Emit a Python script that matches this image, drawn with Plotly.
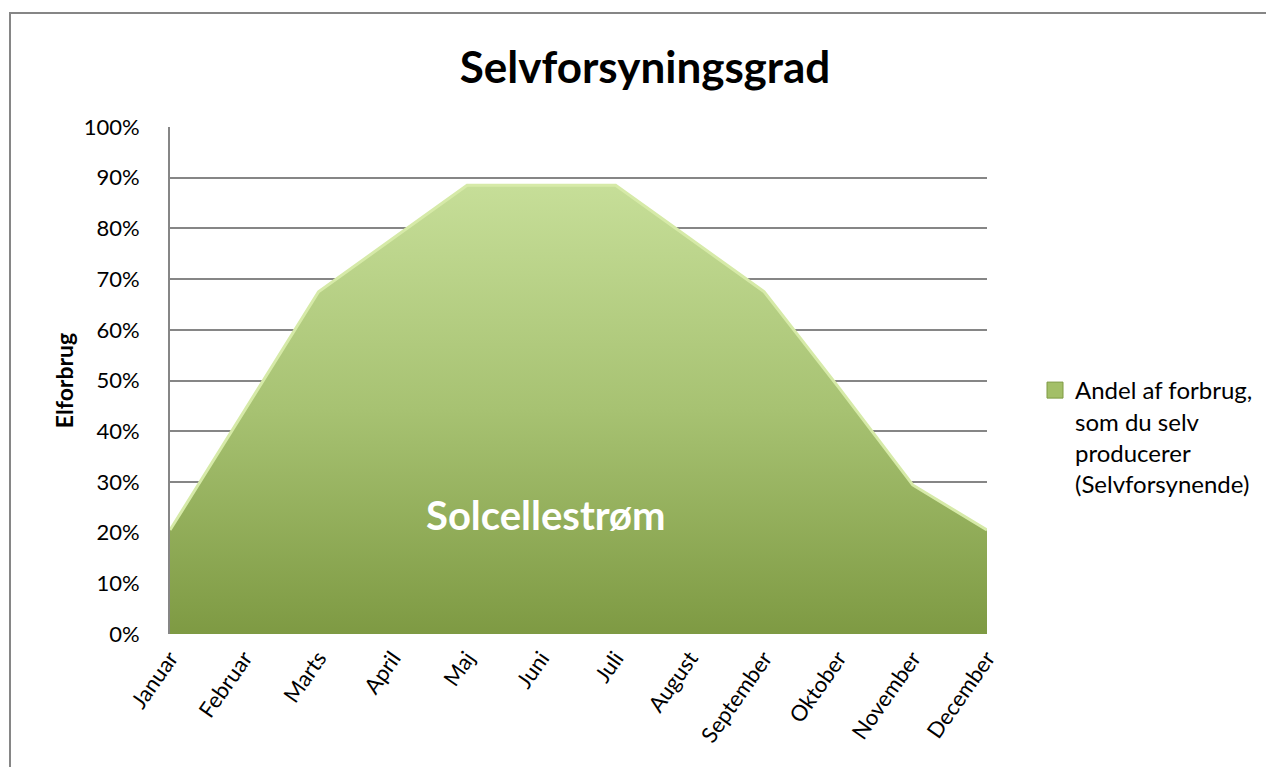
import plotly.graph_objects as go

months = ["Januar", "Februar", "Marts", "April", "Maj", "Juni", "Juli",
          "August", "September", "Oktober", "November", "December"]
share = [0.205, 0.44, 0.675, 0.78, 0.885, 0.885, 0.885, 0.78, 0.675, 0.487, 0.294, 0.205]
y_ticks = [i / 10 for i in range(11)]
y_labels = [f"{i*10}%" for i in range(11)]
series_name = "Andel af forbrug,<br>som du selv<br>producerer<br>(Selvforsynende)"

FONT = "Lato"
W, H = 1266, 759          # page body has an 8px offset
OFF = 8
PL, PR, PT, PB = 170, 987, 127, 634   # plot area in screenshot pixels
PW, PH = PR - PL, PB - PT

def px(p):
    return (p - PL) / PW

def py(p):
    return (PB - p) / PH

fig = go.Figure()
fig.add_trace(go.Scatter(
    x=months, y=share, mode="lines", name=series_name,
    fill="tozeroy",
    fillgradient=dict(type="vertical",
                      colorscale=[[0, "#7e9a43"], [0.5, "#a7c272"], [1, "#c6de98"]]),
    line=dict(color="#d6eaa8", width=3),
    showlegend=False,
))
# legend entry (square swatch, as in the original)
fig.add_trace(go.Scatter(
    x=[None], y=[None], mode="markers", name=series_name,
    marker=dict(symbol="square", size=16, color="#a3bf68",
                line=dict(color="#7e9a43", width=1)),
    showlegend=True,
))

fig.add_annotation(x=5.06, y=py(515), xref="x", yref="paper", text="<b>Solcellestrøm</b>",
                   showarrow=False, xanchor="center", yanchor="middle",
                   font=dict(family=FONT, size=40, color="white"))

# outer chart border (partly cropped)
fig.add_shape(type="rect", xref="paper", yref="paper",
              x0=px(10), x1=px(1300), y0=py(800), y1=py(13),
              line=dict(color="#868686", width=2), layer="below")

fig.update_layout(
    width=W, height=H,
    margin=dict(l=PL - OFF, r=W - (PR - OFF), t=PT - OFF, b=H - (PB - OFF),
                autoexpand=False),
    paper_bgcolor="white", plot_bgcolor="white",
    title=dict(text="<b>Selvforsyningsgrad</b>", x=(645 - OFF) / W, xanchor="center",
               y=1 - (68 - OFF) / H, yanchor="middle",
               font=dict(family=FONT, size=44, color="black")),
    font=dict(family=FONT, size=22, color="black"),
    legend=dict(x=px(1035), y=py(368), xanchor="left", yanchor="top",
                font=dict(family=FONT, size=24), itemwidth=30, valign="top",
                bgcolor="rgba(0,0,0,0)"),
    xaxis=dict(type="category", range=[0, 11], showgrid=False, showline=False,
               tickangle=-55, tickfont=dict(family=FONT, size=22), ticks="",
               ticklabelstandoff=6, zeroline=False),
    yaxis=dict(range=[0, 1], tickvals=y_ticks, ticktext=y_labels,
               showgrid=True, gridcolor="#868686", gridwidth=1.5,
               showline=True, linecolor="#868686", linewidth=2,
               ticks="", ticklabelstandoff=24, zeroline=False,
               title=dict(text="<b>Elforbrug</b>", font=dict(family=FONT, size=23), standoff=4),
               tickfont=dict(family=FONT, size=22)),
)

fig.write_html("out.html")
